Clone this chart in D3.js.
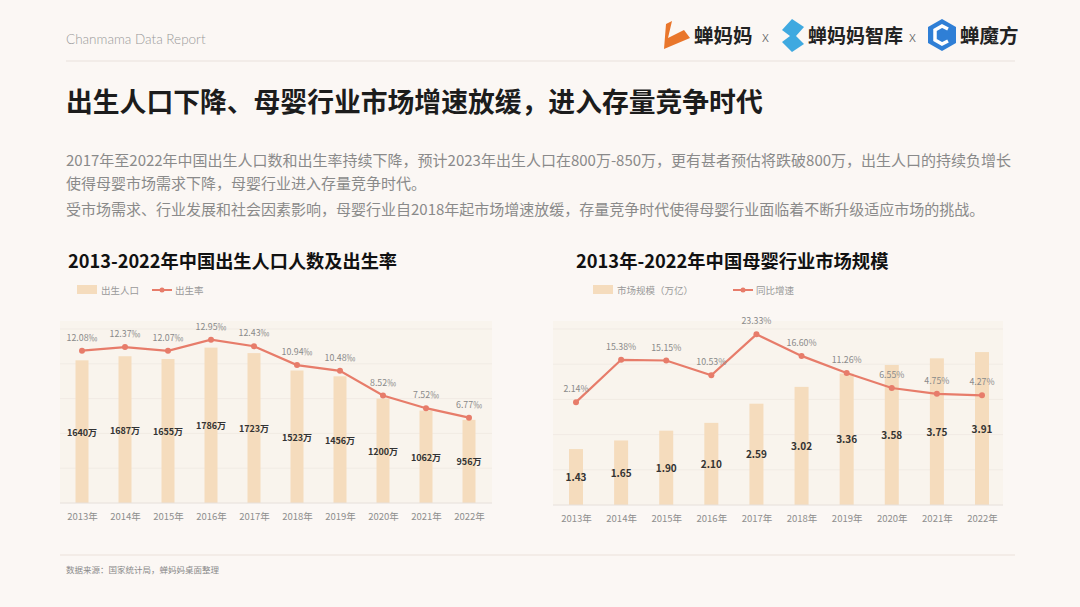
<!DOCTYPE html>
<html>
<head>
<meta charset="utf-8">
<script src="https://cdn.jsdelivr.net/npm/d3@7"></script>
<style>
  html, body { margin: 0; padding: 0; background: #fbf7f4; }
  svg { display: block; font-family: "Noto Sans CJK SC", "Noto Sans", sans-serif; }
</style>
</head>
<body>
<div id="chart"></div>
<script>
"use strict";

const years = ["2013年", "2014年", "2015年", "2016年", "2017年", "2018年", "2019年", "2020年", "2021年", "2022年"];
const births = [1640, 1687, 1655, 1786, 1723, 1523, 1456, 1200, 1062, 956];
const birthRate = [12.08, 12.37, 12.07, 12.95, 12.43, 10.94, 10.48, 8.52, 7.52, 6.77];
const marketSize = [1.43, 1.65, 1.90, 2.10, 2.59, 3.02, 3.36, 3.58, 3.75, 3.91];
const marketGrowth = [2.14, 15.38, 15.15, 10.53, 23.33, 16.60, 11.26, 6.55, 4.75, 4.27];

const barColor = "#f5dcbd";
const lineColor = "#e77c6a";
const W = 1080, H = 607;

const svg = d3.select("#chart").append("svg")
    .attr("width", W)
    .attr("height", H);

svg.append("rect").attr("width", W).attr("height", H).attr("fill", "#fbf7f4");

// header
svg.append("text")
    .attr("x", 66).attr("y", 44)
    .attr("fill", "#9a9a9a")
    .style("font-size", "13.5px")
    .style("font-family", "Lato, 'Noto Sans', sans-serif")
    .style("font-weight", 300)
    .text("Chanmama Data Report");

const logo = svg.append("g");
// 蝉妈妈 icon
logo.append("path")
    .attr("d", "M666,24 L672,21 L668,38 L684,30 L690,38 L664,49 Z")
    .attr("fill", "#e9762b");
logo.append("text").attr("x", 694).attr("y", 43).attr("fill", "#222")
    .style("font-size", "19.5px").style("font-weight", 700).text("蝉妈妈");
logo.append("text").attr("x", 762).attr("y", 42).attr("fill", "#666")
    .style("font-size", "15px").style("font-weight", 300).text("x");
// 智库 icon
logo.append("path")
    .attr("d", "M782,30 L792,19 L804,27 L796,36 L804,44 L792,52 L782,42 L790,36 Z")
    .attr("fill", "#3fa9e0");
logo.append("text").attr("x", 808).attr("y", 43).attr("fill", "#222")
    .style("font-size", "19px").style("font-weight", 700).text("蝉妈妈智库");
logo.append("text").attr("x", 909).attr("y", 42).attr("fill", "#666")
    .style("font-size", "15px").style("font-weight", 300).text("x");
// 蝉魔方 icon
logo.append("path")
    .attr("d", "M942,19 L956,27 L956,43 L942,51 L928,43 L928,27 Z")
    .attr("fill", "#2f7fd6");
logo.append("path")
    .attr("d", "M948,29 L942,26 L935,30 L935,40 L942,44 L948,41")
    .attr("fill", "none").attr("stroke", "#fff").attr("stroke-width", 3.5);
logo.append("text").attr("x", 960).attr("y", 43).attr("fill", "#222")
    .style("font-size", "19.5px").style("font-weight", 700).text("蝉魔方");

svg.append("line")
    .attr("x1", 66).attr("x2", 1015).attr("y1", 61).attr("y2", 61)
    .attr("stroke", "#efe9e4").attr("stroke-width", 1.5);

svg.append("text")
    .attr("x", 66).attr("y", 112)
    .attr("fill", "#1c1c1c")
    .style("font-size", "26.8px")
    .style("font-weight", 700)
    .text("出生人口下降、母婴行业市场增速放缓，进入存量竞争时代");

const para = [
    {y: 166, t: "2017年至2022年中国出生人口数和出生率持续下降，预计2023年出生人口在800万-850万，更有甚者预估将跌破800万，出生人口的持续负增长"},
    {y: 189, t: "使得母婴市场需求下降，母婴行业进入存量竞争时代。"},
    {y: 215, t: "受市场需求、行业发展和社会因素影响，母婴行业自2018年起市场增速放缓，存量竞争时代使得母婴行业面临着不断升级适应市场的挑战。"}
];
svg.selectAll("text.para").data(para).join("text")
    .attr("class", "para")
    .attr("x", 66).attr("y", (d) => d.y)
    .attr("fill", "#8a8a8a")
    .style("font-size", "15px")
    .text((d) => d.t);

// footer
svg.append("line")
    .attr("x1", 60).attr("x2", 1015).attr("y1", 555).attr("y2", 555)
    .attr("stroke", "#f0e9e3").attr("stroke-width", 1.5);
svg.append("text")
    .attr("x", 66).attr("y", 573)
    .attr("fill", "#8a8a8a")
    .style("font-size", "8.5px")
    .text("数据来源：国家统计局，蝉妈妈桌面整理");

function drawChart(cfg) {
    const g = svg.append("g");

    // faint panel
    g.append("rect")
        .attr("x", cfg.left).attr("y", cfg.top - 8)
        .attr("width", cfg.right - cfg.left).attr("height", cfg.bottom - cfg.top + 8)
        .attr("fill", "#f9f1e8").attr("opacity", 0.6);

    g.append("text")
        .attr("x", cfg.titleX).attr("y", 268)
        .attr("fill", "#111")
        .style("font-size", cfg.titleSize)
        .style("font-weight", 700)
        .text(cfg.title);

    // legend
    g.append("rect")
        .attr("x", cfg.leg1X).attr("y", 285).attr("width", 20).attr("height", 9)
        .attr("fill", barColor);
    g.append("text")
        .attr("x", cfg.leg1X + 24).attr("y", 294)
        .attr("fill", "#999").style("font-size", "9.5px")
        .text(cfg.barName);
    g.append("line")
        .attr("x1", cfg.leg2X).attr("x2", cfg.leg2X + 20).attr("y1", 290).attr("y2", 290)
        .attr("stroke", lineColor).attr("stroke-width", 2);
    g.append("circle")
        .attr("cx", cfg.leg2X + 10).attr("cy", 290).attr("r", 2.5)
        .attr("fill", lineColor);
    g.append("text")
        .attr("x", cfg.leg2X + 23).attr("y", 294)
        .attr("fill", "#999").style("font-size", "9.5px")
        .text(cfg.lineName);

    const x = d3.scalePoint()
        .domain(years)
        .range([cfg.x0, cfg.x1]);

    const y = d3.scaleLinear()
        .domain(cfg.barDomain)
        .range([cfg.bottom, cfg.top]);

    const y2 = d3.scaleLinear()
        .domain(cfg.lineDomain)
        .range([cfg.bottom, cfg.top]);

    // faint grid
    g.selectAll("line.grid").data(d3.range(1, 6)).join("line")
        .attr("class", "grid")
        .attr("x1", cfg.left).attr("x2", cfg.right)
        .attr("y1", (d) => cfg.bottom - d * (cfg.bottom - cfg.top) / 5)
        .attr("y2", (d) => cfg.bottom - d * (cfg.bottom - cfg.top) / 5)
        .attr("stroke", "#f1ebe4").attr("stroke-width", 1);

    const bw = cfg.barWidth;
    g.selectAll("rect.bar").data(cfg.bars).join("rect")
        .attr("class", "bar")
        .attr("x", (d, i) => x(years[i]) - bw / 2)
        .attr("y", (d) => y(d))
        .attr("width", bw)
        .attr("height", (d) => cfg.bottom - y(d))
        .attr("fill", barColor);

    g.selectAll("text.barval").data(cfg.bars).join("text")
        .attr("class", "barval")
        .attr("x", (d, i) => x(years[i]))
        .attr("y", (d) => (y(d) + cfg.bottom) / 2 + 4)
        .attr("text-anchor", "middle")
        .attr("fill", "#333")
        .style("font-size", cfg.barFont)
        .style("font-weight", 700)
        .text(cfg.barFmt);

    // baseline
    g.append("line")
        .attr("x1", cfg.left).attr("x2", cfg.right)
        .attr("y1", cfg.bottom).attr("y2", cfg.bottom)
        .attr("stroke", "#e6e0da").attr("stroke-width", 1);

    const axis = g.append("g")
        .attr("transform", "translate(0," + cfg.bottom + ")")
        .call(d3.axisBottom(x).tickSize(0).tickPadding(10));
    axis.select(".domain").remove();
    axis.selectAll("text")
        .attr("fill", "#8e8e8e")
        .style("font-size", "9.5px")
        .style("font-family", "'Noto Sans CJK SC', sans-serif");

    const line = d3.line()
        .x((d, i) => x(years[i]))
        .y((d) => y2(d));

    g.append("path")
        .datum(cfg.line)
        .attr("d", line)
        .attr("fill", "none")
        .attr("stroke", lineColor)
        .attr("stroke-width", 2.2);

    g.selectAll("circle.pt").data(cfg.line).join("circle")
        .attr("class", "pt")
        .attr("cx", (d, i) => x(years[i]))
        .attr("cy", (d) => y2(d))
        .attr("r", 3)
        .attr("fill", lineColor);

    g.selectAll("text.lineval").data(cfg.line).join("text")
        .attr("class", "lineval")
        .attr("x", (d, i) => x(years[i]))
        .attr("y", (d) => y2(d) - 10)
        .attr("text-anchor", "middle")
        .attr("fill", "#8a8a8a")
        .style("font-size", "8.8px")
        .text(cfg.lineFmt);
}

drawChart({
    title: "2013-2022年中国出生人口人数及出生率",
    titleX: 68,
    titleSize: "18.2px",
    barName: "出生人口",
    lineName: "出生率",
    leg1X: 77,
    leg2X: 152,
    left: 60, right: 492,
    x0: 82, x1: 469,
    top: 329, bottom: 503,
    barWidth: 13,
    bars: births,
    barDomain: [0, 2000],
    barFont: "9px",
    barFmt: (d) => d + "万",
    line: birthRate,
    lineDomain: [0, 13.8],
    lineFmt: (d) => d.toFixed(2) + "‰"
});

drawChart({
    title: "2013年-2022年中国母婴行业市场规模",
    titleX: 576,
    titleSize: "18.3px",
    barName: "市场规模（万亿）",
    lineName: "同比增速",
    leg1X: 593,
    leg2X: 733,
    left: 553, right: 1003,
    x0: 576, x1: 982,
    top: 329, bottom: 505,
    barWidth: 14,
    bars: marketSize,
    barDomain: [0, 4.5],
    barFont: "10px",
    barFmt: (d) => d.toFixed(2),
    line: marketGrowth,
    lineDomain: [-30, 25],
    lineFmt: (d) => d.toFixed(2) + "%"
});
</script>
</body>
</html>
